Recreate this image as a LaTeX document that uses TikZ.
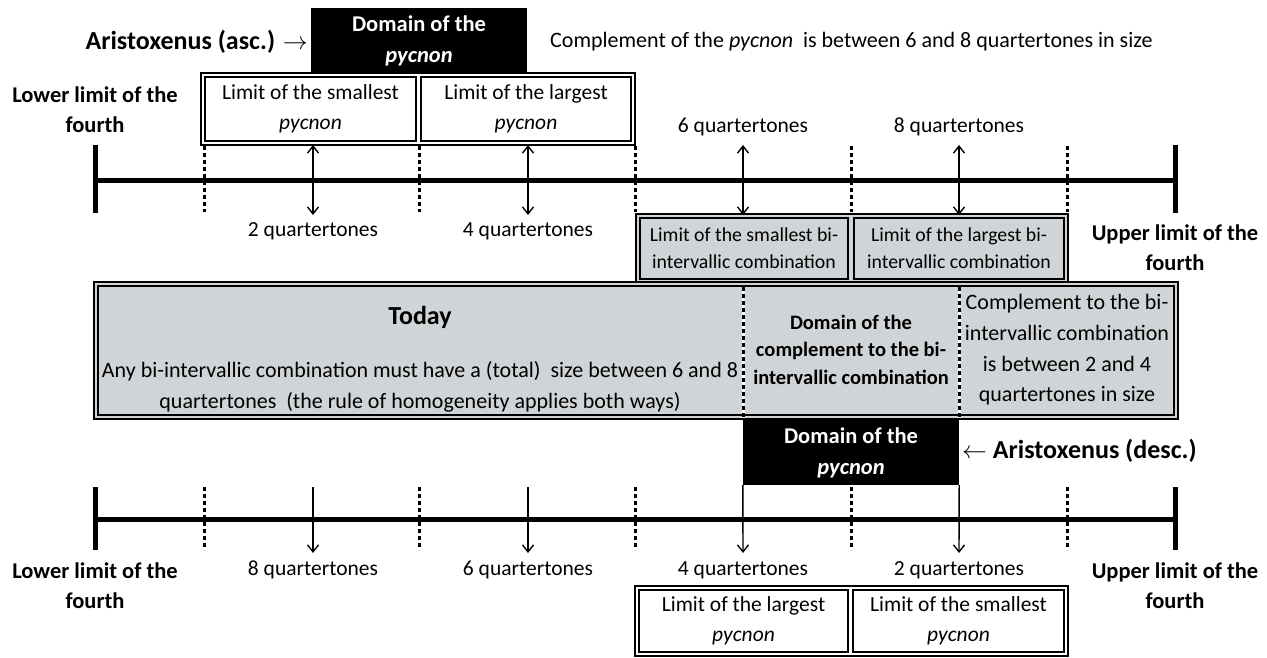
\documentclass[tikz,border=0pt]{standalone}
\usepackage{fontspec}
\setmainfont{Carlito}
\usepackage{xcolor}
\usetikzlibrary{arrows.meta, fit, backgrounds}
\definecolor{boxgray}{RGB}{208,212,214}

\begin{document}
\begin{tikzpicture}[x=1pt, y=-1pt,
		>={Straight Barb[length=7pt, width=11pt]},
		txt/.style = {font=\fontsize{21.5pt}{30pt}\selectfont, align=center, inner sep=0pt},
		boldtxt/.style = {txt, font=\fontsize{22.5pt}{30pt}\selectfont\bfseries},
		namelbl/.style = {txt, font=\fontsize{26pt}{30pt}\selectfont\bfseries},
		innerbox/.style = {draw, line width=2.5pt, inner sep=0pt, outer sep=0pt, align=center,
			font=\fontsize{21.5pt}{30pt}\selectfont},
		graybox/.style = {innerbox, fill=boxgray},
		outerframe/.style = {draw, fill=white, line width=2pt, inner sep=4pt},
		grayframe/.style = {outerframe, fill=boxgray},
		blackbox/.style = {fill=black, text=white, inner sep=0pt, align=center,
			font=\fontsize{22.5pt}{31pt}\selectfont\bfseries, minimum width=216pt, minimum height=65pt},
		axis/.style = {line width=5pt},
		dottick/.style = {line width=3pt, dash pattern=on 4pt off 3pt},
		qarrow/.style = {line width=1.4pt}
	]
	\useasboundingbox (0,0) rectangle (1267,658);
	
	% upper scale (ascending)
	\node[innerbox, minimum width=211pt, minimum height=64pt] (spyc) at (310.5,109) {Limit of the smallest\\\textit{pycnon}};
	\node[innerbox, minimum width=210pt, minimum height=64pt] (lpyc) at (526,109) {Limit of the largest\\\textit{pycnon}};
	\begin{scope}[on background layer]
		\node[outerframe, fit=(spyc)(lpyc)] (pycframe) {};
	\end{scope}
	\node[blackbox] (pycasc) at (419,40.5) {Domain of the\\\textit{pycnon}};
	\node[namelbl, anchor=east] (asc) at (308,42) {Aristoxenus (asc.) $\rightarrow$};
	\node[txt, font=\fontsize{22pt}{30pt}\selectfont, anchor=west] (compl) at (550,42) {Complement of the \textit{pycnon}\ \ is between 6 and 8 quartertones in size};
	
	\node[graybox, minimum width=208pt, minimum height=61pt, font=\fontsize{19.8pt}{27pt}\selectfont] (sbi) at (744,248.5) {Limit of the smallest bi-\\intervallic combination};
	\node[graybox, minimum width=210pt, minimum height=61pt, font=\fontsize{19.8pt}{27pt}\selectfont] (lbi) at (959,248.5) {Limit of the largest bi-\\intervallic combination};
	\begin{scope}[on background layer]
		\node[grayframe, fit=(sbi)(lbi)] (biframe) {};
	\end{scope}
	
	\node[boldtxt] (low1) at (95,110) {Lower limit of the\\fourth};
	\node[boldtxt] (up1) at (1175,248) {Upper limit of the\\fourth};
	\node[txt] (q6a) at (743,127) {6 quartertones};
	\node[txt] (q8a) at (959,127) {8 quartertones};
	\node[txt] (q2a) at (313,231) {2 quartertones};
	\node[txt] (q4a) at (528,231) {4 quartertones};
	
	\coordinate (lo1) at (95,181);
	\coordinate (hi1) at (1175,181);
	\draw[axis] (lo1) -- (hi1);
	\draw[axis] (95,145) -- (95,213);
	\draw[axis] (1175,145) -- (1175,213);
	\foreach \x in {204,419,635,851,1067}
		\draw[dottick] (\x,146) -- (\x,212);
	\foreach \x/\n in {313/a,528/b,743/c,959/d} {
		\coordinate (\n top) at (\x,145);
		\coordinate (\n bot) at (\x,215);
		\draw[qarrow, <->] (\n top) -- (\n bot);
	}
	
	% today
	\node[graybox, minimum width=1076pt, minimum height=129pt] (today) at (636,350.5) {};
	\begin{scope}[on background layer]
		\node[grayframe, fit=(today)] (todayframe) {};
	\end{scope}
	\foreach \x in {743,959} {
		\draw[white, line width=3pt] (\x,287) -- (\x,418);
		\draw[dottick] (\x,287) -- (\x,418);
	}
	\node[txt, font=\fontsize{26pt}{30pt}\selectfont\bfseries] (todayhead) at (420,317) {Today};
	\node[txt, font=\fontsize{22pt}{31pt}\selectfont] (todaybody) at (420,386.5) {Any bi-intervallic combination must have a (total)\ \ size between 6 and 8\\quartertones\ \ (the rule of homogeneity applies both ways)};
	\node[txt, font=\fontsize{20.5pt}{27.5pt}\selectfont\bfseries] (domcompl) at (851,349.5) {Domain of the\\complement to the bi-\\intervallic combination};
	\node[txt, font=\fontsize{22pt}{30.7pt}\selectfont] (compl2) at (1067,350) {Complement to the bi-\\intervallic combination\\is between 2 and 4\\quartertones in size};
	
	% lower scale (descending)
	\node[blackbox] (pycdesc) at (851,452.5) {Domain of the\\\textit{pycnon}};
	\node[namelbl, anchor=west] (desc) at (962,451) {$\leftarrow$ Aristoxenus (desc.)};
	
	\coordinate (lo2) at (95,519);
	\coordinate (hi2) at (1175,519);
	\draw[axis] (lo2) -- (hi2);
	\draw[axis] (95,487) -- (95,550);
	\draw[axis] (1175,487) -- (1175,550);
	\foreach \x in {204,419,635,851,1067}
		\draw[dottick] (\x,487) -- (\x,550);
	\foreach \x/\n in {313/e,528/f} {
		\coordinate (\n top) at (\x,487);
		\coordinate (\n bot) at (\x,553);
		\draw[qarrow, ->] (\n top) -- (\n bot);
	}
	\coordinate (gbot) at (743,553);
	\coordinate (hbot) at (959,553);
	\draw[qarrow, ->] (pycdesc.south west) -- (gbot);
	\draw[qarrow, ->] (pycdesc.south east) -- (hbot);
	
	\node[boldtxt] (low2) at (95,586) {Lower limit of the\\fourth};
	\node[boldtxt] (up2) at (1175,586) {Upper limit of the\\fourth};
	\node[txt] (q8b) at (313,570) {8 quartertones};
	\node[txt] (q6b) at (528,570) {6 quartertones};
	\node[txt] (q4b) at (743,570) {4 quartertones};
	\node[txt] (q2b) at (959,570) {2 quartertones};
	
	\node[innerbox, minimum width=209pt, minimum height=62pt] (lpyc2) at (743.5,621) {Limit of the largest\\\textit{pycnon}};
	\node[innerbox, minimum width=211pt, minimum height=62pt] (spyc2) at (958.5,621) {Limit of the smallest\\\textit{pycnon}};
	\begin{scope}[on background layer]
		\node[outerframe, fit=(lpyc2)(spyc2)] (pycframe2) {};
	\end{scope}
\end{tikzpicture}
\end{document}
